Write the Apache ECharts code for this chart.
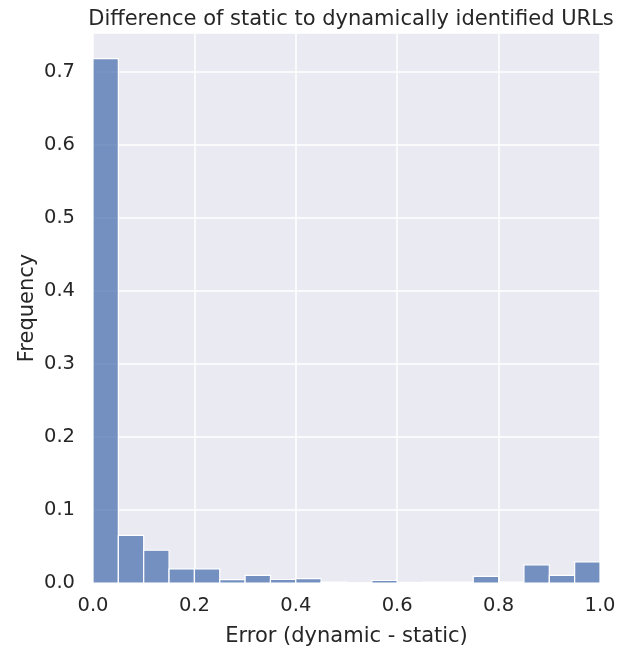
<!DOCTYPE html>
<html>
<head>
<meta charset="utf-8">
<script src="https://cdn.jsdelivr.net/npm/echarts@6/dist/echarts.min.js"></script>
<style>
html,body{margin:0;padding:0;background:#fff;}
#chart{width:628px;height:649px;}
</style>
</head>
<body>
<div id="chart"></div>
<script>
const binEdges = [0,0.05,0.1,0.15,0.2,0.25,0.3,0.35,0.4,0.45,0.5,0.55,0.6,0.65,0.7,0.75,0.8,0.85,0.9,0.95,1.0];
const frequencies = [0.7185,0.0654,0.0449,0.0194,0.0194,0.0045,0.0105,0.0048,0.006,0.0016,0.0,0.0034,0.0008,0.0016,0.0016,0.009,0.0015,0.0247,0.0105,0.029];
const xTicks = [0,0.2,0.4,0.6,0.8,1.0];
const yTicks = [0,0.1,0.2,0.3,0.4,0.5,0.6,0.7];

const data = frequencies.map((v,i)=>[binEdges[i], binEdges[i+1], v]);
const font = '"DejaVu Sans", sans-serif';
const textColor = '#262626';

const chart = echarts.init(document.getElementById('chart'), null, {renderer:'canvas'});
chart.setOption({
  animation:false,
  backgroundColor:'#ffffff',
  title:{
    text:'Difference of static to dynamically identified URLs',
    left:346, top:4, textAlign:'center',
    textStyle:{fontFamily:font, fontSize:21, fontWeight:'normal', color:textColor}
  },
  grid:{left:93, right:28, top:33, bottom:66, backgroundColor:'#EAEAF2', show:true, borderWidth:0,
        containLabel:false, outerBoundsMode:'none'},
  xAxis:{
    type:'value', min:0, max:1, interval:0.2,
    name:'Error (dynamic - static)', nameLocation:'middle', nameGap:43, nameMoveOverlap:false,
    nameTextStyle:{fontFamily:font, fontSize:21, color:textColor},
    axisLine:{show:false}, axisTick:{show:false},
    axisLabel:{fontFamily:font, fontSize:19.5, color:textColor, margin:13,
      formatter:v=>v.toFixed(1)},
    splitLine:{show:true, lineStyle:{color:'#ffffff', width:1.5}}
  },
  yAxis:{
    type:'value', min:0, max:0.7537, interval:0.1,
    name:'Frequency', nameLocation:'middle', nameGap:55, nameRotate:90, nameMoveOverlap:false,
    nameTextStyle:{fontFamily:font, fontSize:21, color:textColor},
    axisLine:{show:false}, axisTick:{show:false},
    axisLabel:{fontFamily:font, fontSize:19.5, color:textColor, margin:18,
      showMaxLabel:false,
      formatter:v=> yTicks.some(t=>Math.abs(t-v)<1e-6) ? v.toFixed(1) : ''},
    splitLine:{show:true, lineStyle:{color:'#ffffff', width:1.5}}
  },
  series:[{
    type:'custom',
    data:data,
    encode:{x:[0,1], y:2},
    renderItem:function(params, api){
      const p0 = api.coord([api.value(0), 0]);
      const p1 = api.coord([api.value(1), api.value(2)]);
      return {
        type:'rect',
        shape:{x:p0[0], y:p1[1], width:p1[0]-p0[0], height:p0[1]-p1[1]},
        style:{fill:'rgba(76,114,176,0.75)', stroke:'#ffffff', lineWidth:1.2}
      };
    }
  }]
});
</script>
</body>
</html>
